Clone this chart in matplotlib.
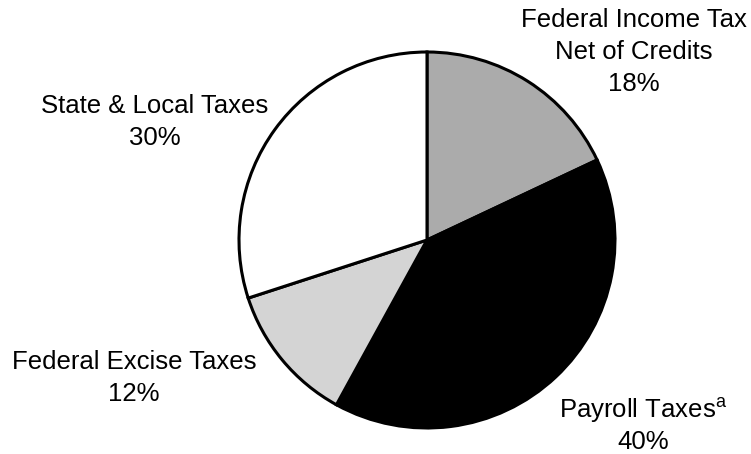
import matplotlib.pyplot as plt

# tax shares, clockwise from 12 o'clock
shares = [18, 40, 12, 30]
names = [["Federal Income Tax", "Net of Credits"],
         ["Payroll Taxes$^{\\mathregular{a}}$"],
         ["Federal Excise Taxes"],
         ["State & Local Taxes"]]
fills = ["#ababab", "#000000", "#d4d4d4", "#ffffff"]

plt.rcParams['font.family'] = ['Liberation Sans', 'DejaVu Sans']

H = 454
fig = plt.figure(figsize=(7.51, 4.54), dpi=100)
ax = fig.add_axes([0, 0, 1, 1])

ax.pie(shares, colors=fills, startangle=90, counterclock=False,
       center=(427, H - 240), radius=188,
       wedgeprops=dict(edgecolor='black', linewidth=2.2))
ax.set_xlim(0, 751)
ax.set_ylim(0, H)
ax.set_aspect('equal')
ax.axis('off')

# label centre x and first line y, pixels from the top
spots = [(634, 20), (643, 410), (134, 362), (155, 106)]
step = 32
for (x, y), lines, pct in zip(spots, names, shares):
    for i, s in enumerate(lines + ["%d%%" % pct]):
        ax.text(x, H - (y + i * step), s, ha='center', va='center',
                fontsize=18.5)

fig.savefig("out.png", dpi=100)
